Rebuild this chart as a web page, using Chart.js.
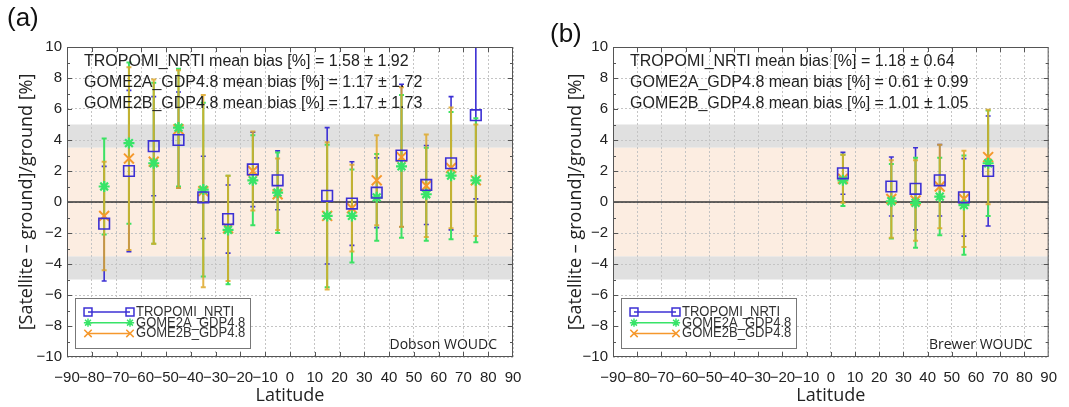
<!DOCTYPE html>
<html lang="en">
<head>
<meta charset="UTF-8" />
<title>Total ozone bias vs latitude</title>
<script src="https://cdn.jsdelivr.net/npm/chart.js"></script>
<style>
  html, body { margin: 0; padding: 0; background: #fff; overflow: hidden; }
  canvas { position: absolute; top: 0; }
  #chartA { left: 0; }
  #chartB { left: 545px; }
</style>
</head>
<body>
<canvas id="chartA" width="545" height="407"></canvas>
<canvas id="chartB" width="524" height="407"></canvas>
<script>
// Series names and summary stats
const seriesNames = ['TROPOMI_NRTI', 'GOME2A_GDP4.8', 'GOME2B_GDP4.8'];
const biasDobson = [1.58, 1.17, 1.17];
const biasSdDobson = [1.92, 1.72, 1.73];
const biasBrewer = [1.18, 0.61, 1.01];
const biasSdBrewer = [0.64, 0.99, 1.05];

// Dobson stations, 10-degree latitude bins
const latDobson = [-75, -65, -55, -45, -35, -25, -15, -5, 15, 25, 35, 45, 55, 65, 75];
const tropomiDobson   = [-1.4, 2.0, 3.6, 4.0, 0.3, -1.1, 2.1, 1.4, 0.4, -0.1, 0.6, 3.0, 1.1, 2.5, 5.6];
const tropomiDobsonSd = [3.7, 5.2, 3.2, 3.1, 2.65, 2.2, 2.4, 1.9, 4.4, 2.7, 2.25, 4.6, 2.55, 4.3, 5.4];
const gome2aDobson    = [1.0, 3.8, 2.5, 4.8, 0.8, -1.8, 1.4, 0.6, -0.9, -0.9, 0.3, 2.3, 0.5, 1.7, 1.4];
const gome2aDobsonSd  = [3.1, 5.2, 5.2, 3.8, 5.6, 3.5, 2.9, 2.6, 4.6, 3.0, 2.8, 4.6, 3.0, 4.1, 4.0];
const gome2bDobson    = [-0.9, 2.8, 2.6, 4.7, 0.7, -1.7, 2.0, 0.5, -0.9, -0.4, 1.4, 2.9, 1.05, 2.2, 1.4];
const gome2bDobsonSd  = [3.5, 5.9, 5.3, 3.8, 6.2, 3.4, 2.55, 2.3, 4.75, 2.8, 2.9, 4.5, 3.3, 3.9, 3.6];

// Brewer stations
const latBrewer = [5, 25, 35, 45, 55, 65];
const tropomiBrewer   = [1.85, 1.0, 0.85, 1.4, 0.3, 2.0];
const tropomiBrewerSd = [1.35, 1.9, 2.65, 2.3, 2.5, 3.55];
const gome2aBrewer    = [1.4, 0.05, -0.05, 0.35, -0.2, 2.5];
const gome2aBrewerSd  = [1.65, 2.4, 2.9, 2.5, 3.2, 3.4];
const gome2bBrewer    = [1.5, 0.2, 0.1, 1.0, 0.2, 2.9];
const gome2bBrewerSd  = [1.55, 2.5, 2.6, 2.7, 3.1, 3.05];

const BLUE = '#3c30d4';
const GREEN = '#38e468';
const ORANGE = '#f5982c';
const TICK_FONT = { family: 'Liberation Sans, Arial, sans-serif', size: 15 };

const minus = v => (v < 0 ? '\u2212' + Math.abs(v) : String(v));
const pts = (lat, vals) => lat.map((x, i) => ({ x, y: vals[i] }));

// bands, error bars, frame, legend and text
const panelDecor = {
  id: 'panelDecor',
  beforeDraw(chart) {
    const { ctx, chartArea: a, scales: { y } } = chart;
    const band = (lo, hi, color) => {
      const t = y.getPixelForValue(hi), b = y.getPixelForValue(lo);
      ctx.fillStyle = color;
      ctx.fillRect(a.left, t, a.right - a.left, b - t);
    };
    ctx.save();
    band(3.5, 5, '#e0e0e0');
    band(-5, -3.5, '#e0e0e0');
    band(-3.5, 3.5, '#fcede1');
    ctx.restore();
  },
  beforeDatasetsDraw(chart) {
    const { ctx, chartArea: a, scales: { x, y } } = chart;
    ctx.save();
    ctx.beginPath();
    ctx.rect(a.left, a.top, a.right - a.left, a.bottom - a.top);
    ctx.clip();
    // zero line
    const y0 = y.getPixelForValue(0);
    ctx.strokeStyle = '#333';
    ctx.lineWidth = 1.6;
    ctx.beginPath();
    ctx.moveTo(a.left, y0);
    ctx.lineTo(a.right, y0);
    ctx.stroke();
    // error bars, mean +/- sd
    chart.data.datasets.forEach(ds => {
      ctx.strokeStyle = ds.barColor;
      ctx.lineWidth = ds.barWidth;
      ds.data.forEach((p, i) => {
        const px = x.getPixelForValue(p.x);
        const top = y.getPixelForValue(p.y + ds.sd[i]);
        const bot = y.getPixelForValue(p.y - ds.sd[i]);
        ctx.beginPath();
        ctx.moveTo(px, top); ctx.lineTo(px, bot);
        ctx.moveTo(px - 2.5, top); ctx.lineTo(px + 2.5, top);
        ctx.moveTo(px - 2.5, bot); ctx.lineTo(px + 2.5, bot);
        ctx.stroke();
      });
    });
    ctx.restore();
  },
  afterDraw(chart, args, opts) {
    const { ctx, chartArea: a, scales: { x, y } } = chart;
    ctx.save();

    // box with inward ticks
    ctx.strokeStyle = '#555';
    ctx.lineWidth = 1;
    ctx.strokeRect(a.left + 0.5, a.top + 0.5, a.right - a.left - 1, a.bottom - a.top - 1);
    ctx.beginPath();
    for (let v = -80; v <= 80; v += 10) {
      const px = Math.round(x.getPixelForValue(v)) + 0.5;
      ctx.moveTo(px, a.bottom); ctx.lineTo(px, a.bottom - 5);
      ctx.moveTo(px, a.top); ctx.lineTo(px, a.top + 5);
    }
    for (let v = -9; v <= 9; v += 1) {
      const py = Math.round(y.getPixelForValue(v)) + 0.5;
      const len = v % 2 === 0 ? 5 : 3;
      ctx.moveTo(a.left, py); ctx.lineTo(a.left + len, py);
      ctx.moveTo(a.right, py); ctx.lineTo(a.right - len, py);
    }
    ctx.stroke();

    // mean bias lines
    ctx.fillStyle = '#222';
    ctx.font = '16px Liberation Sans, Arial, sans-serif';
    ctx.textBaseline = 'middle';
    ctx.textAlign = 'left';
    seriesNames.forEach((name, i) => {
      const txt = name + ' mean bias [%] = ' + opts.bias[i].toFixed(2) + ' \u00b1 ' + opts.biasSd[i].toFixed(2);
      ctx.fillText(txt, a.left + 17, a.top + 15 + i * 21);
    });

    // station network
    ctx.font = '14px Open Sans, sans-serif';
    ctx.textAlign = 'right';
    ctx.fillText(opts.station, a.right - 16, a.bottom - 12);

    // legend
    const lx = a.left + 8, ly = a.bottom - 59, lw = 175, lh = 50;
    ctx.fillStyle = '#fff';
    ctx.fillRect(lx, ly, lw, lh);
    ctx.strokeStyle = '#777';
    ctx.strokeRect(lx + 0.5, ly + 0.5, lw, lh);
    ctx.font = '14px Liberation Sans, Arial, sans-serif';
    ctx.textAlign = 'left';
    chart.data.datasets.forEach((ds, i) => {
      const ry = ly + 14 + i * 10.7;
      const x0 = lx + 13, x1 = lx + 55;
      ctx.strokeStyle = ds.borderColor;
      ctx.lineWidth = 1.5;
      ctx.beginPath();
      ctx.moveTo(x0, ry); ctx.lineTo(x1, ry);
      ctx.stroke();
      ctx.fillStyle = 'rgba(0,0,0,0)';
      const style = { pointStyle: ds.pointStyle, radius: ds.pointRadius * 0.75, borderWidth: ds.borderWidth, rotation: 0 };
      Chart.helpers.drawPoint(ctx, style, x0, ry);
      Chart.helpers.drawPoint(ctx, style, x1, ry);
      ctx.fillStyle = '#333';
      ctx.save();
      ctx.translate(lx + 61, ry);
      ctx.scale(0.93, 1);
      ctx.fillText(ds.label, 0, 0);
      ctx.restore();
    });

    // panel letter
    ctx.fillStyle = '#111';
    ctx.font = '26px Liberation Sans, Arial, sans-serif';
    ctx.textAlign = 'left';
    ctx.fillText(opts.letter, opts.letterX, opts.letterY);
    ctx.restore();
  }
};

function makeDatasets(lat, t, tSd, a, aSd, b, bSd) {
  return [
    { label: seriesNames[0], data: pts(lat, t), sd: tSd, barColor: BLUE, barWidth: 1.6,
      pointStyle: 'rect', pointRadius: 7.5, borderColor: BLUE, backgroundColor: 'rgba(0,0,0,0)', borderWidth: 1.6 },
    { label: seriesNames[1], data: pts(lat, a), sd: aSd, barColor: 'rgb(60,226,100)', barWidth: 2,
      pointStyle: 'star', pointRadius: 5.5, borderColor: GREEN, backgroundColor: GREEN, borderWidth: 2.2 },
    { label: seriesNames[2], data: pts(lat, b), sd: bSd, barColor: 'rgba(222,168,40,0.85)', barWidth: 2,
      pointStyle: 'crossRot', pointRadius: 7, borderColor: ORANGE, backgroundColor: ORANGE, borderWidth: 2 }
  ];
}

function makeChart(id, datasets, padRight, decor) {
  return new Chart(document.getElementById(id), {
    type: 'scatter',
    data: { datasets },
    options: {
      responsive: false,
      animation: false,
      layout: { padding: { top: 47, right: padRight, left: 0, bottom: 0 } },
      plugins: { legend: { display: false }, tooltip: { enabled: false }, panelDecor: decor },
      scales: {
        x: {
          type: 'linear', min: -90, max: 90,
          afterFit: s => { s.height = 50; },
          ticks: { stepSize: 10, autoSkip: false, maxRotation: 0, padding: 12, color: '#222', font: TICK_FONT, callback: minus },
          grid: { color: '#c4c4c4', drawTicks: false },
          border: { display: false, dash: [2, 2] },
          title: { display: true, text: 'Latitude', color: '#222', padding: { bottom: 0 }, font: { family: 'Open Sans, sans-serif', size: 18 } }
        },
        y: {
          min: -10, max: 10,
          afterFit: s => { s.width = decor.yAxisWidth; },
          ticks: { stepSize: 2, padding: 5, color: '#222', font: TICK_FONT, callback: minus },
          grid: { color: '#c4c4c4', drawTicks: false },
          border: { display: false, dash: [2, 2] },
          title: { display: true, text: '[Satellite \u2013 ground]/ground [%]', color: '#222', padding: { top: decor.titlePad }, font: { family: 'Open Sans, sans-serif', size: 18 } }
        }
      }
    },
    plugins: [panelDecor]
  });
}

makeChart('chartA',
  makeDatasets(latDobson, tropomiDobson, tropomiDobsonSd, gome2aDobson, gome2aDobsonSd, gome2bDobson, gome2bDobsonSd),
  32,
  { letter: '(a)', letterX: 7, letterY: 19, station: 'Dobson WOUDC', bias: biasDobson, biasSd: biasSdDobson, yAxisWidth: 67, titlePad: 16 });

makeChart('chartB',
  makeDatasets(latBrewer, tropomiBrewer, tropomiBrewerSd, gome2aBrewer, gome2aBrewerSd, gome2bBrewer, gome2bBrewerSd),
  11,
  { letter: '(b)', letterX: 5, letterY: 35, station: 'Brewer WOUDC', bias: biasBrewer, biasSd: biasSdBrewer, yAxisWidth: 68, titlePad: 20 });
</script>
</body>
</html>
